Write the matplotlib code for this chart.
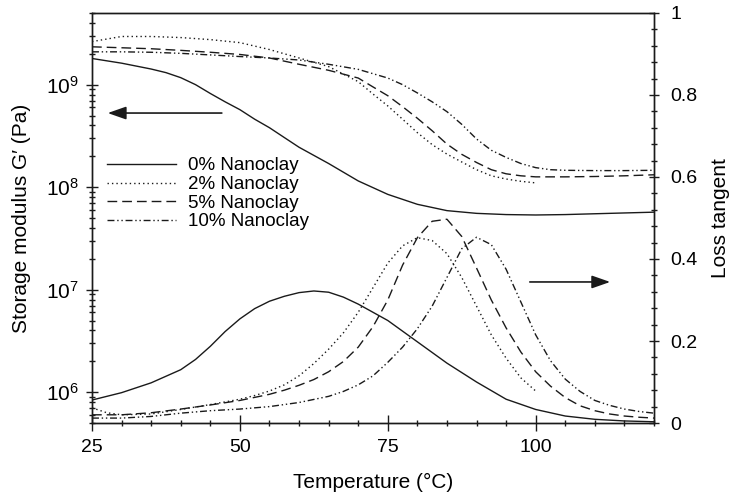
import matplotlib
matplotlib.use("Agg")
import matplotlib.pyplot as plt
from matplotlib.ticker import MultipleLocator, LogLocator, FixedLocator, NullFormatter, FormatStrFormatter, LogFormatterMathtext

plt.rcParams['font.family'] = ['Liberation Sans', 'DejaVu Sans']
plt.rcParams['mathtext.fontset'] = 'custom'
plt.rcParams['mathtext.rm'] = 'Liberation Sans'
plt.rcParams['mathtext.it'] = 'Liberation Sans:italic'

# ---------------- data ----------------
labels = ["0% Nanoclay", "2% Nanoclay", "5% Nanoclay", "10% Nanoclay"]

# storage modulus G' (Pa)
T_g0 = [25, 30, 35, 37.5, 40, 42.5, 45, 47.5, 50, 52.5, 55, 57.5, 60, 65, 70, 75, 80, 85, 90, 95, 100,
        105, 110, 115, 120]
G_0 = [1.8e9, 1.62e9, 1.42e9, 1.31e9, 1.17e9, 1.0e9, 8.2e8, 6.8e8, 5.7e8, 4.6e8, 3.8e8, 3.05e8, 2.45e8,
       1.7e8, 1.15e8, 8.5e7, 6.8e7, 5.9e7, 5.55e7, 5.4e7, 5.35e7, 5.4e7, 5.5e7, 5.6e7, 5.7e7]

T_g2 = [25, 30, 35, 40, 45, 50, 55, 60, 65, 70, 72.5, 75, 77.5, 80, 82.5, 85, 87.5, 90, 92.5, 95, 97.5, 100]
G_2 = [2.63e9, 2.95e9, 2.95e9, 2.88e9, 2.75e9, 2.57e9, 2.2e9, 1.82e9, 1.5e9, 1.07e9, 8.1e8, 6.2e8,
       4.6e8, 3.4e8, 2.6e8, 2.1e8, 1.76e8, 1.48e8, 1.29e8, 1.2e8, 1.14e8, 1.1e8]

T_g5 = [25, 30, 35, 40, 45, 50, 55, 60, 65, 70, 72.5, 75, 77.5, 80, 82.5, 85, 87.5, 90, 92.5, 95,
        97.5, 100, 105, 110, 115, 120]
G_5 = [2.34e9, 2.29e9, 2.24e9, 2.16e9, 2.07e9, 1.97e9, 1.82e9, 1.58e9, 1.38e9, 1.16e9, 9.5e8, 7.8e8,
       6.1e8, 4.7e8, 3.55e8, 2.63e8, 2.09e8, 1.74e8, 1.48e8, 1.35e8, 1.29e8, 1.26e8, 1.26e8, 1.27e8,
       1.29e8, 1.32e8]

T_g10 = [25, 30, 35, 40, 45, 50, 55, 60, 65, 70, 75, 77.5, 80, 82.5, 85, 87.5, 90, 92.5, 95, 97.5,
         100, 102.5, 105, 110, 115, 120]
G_10 = [2.09e9, 2.09e9, 2.07e9, 2.02e9, 1.95e9, 1.88e9, 1.82e9, 1.74e9, 1.58e9, 1.41e9, 1.16e9, 1.0e9,
        8.3e8, 6.8e8, 5.45e8, 4.1e8, 2.95e8, 2.29e8, 1.95e8, 1.7e8, 1.55e8, 1.48e8, 1.46e8, 1.45e8,
        1.45e8, 1.46e8]

# loss tangent
T_t0 = [25, 30, 35, 40, 42.5, 45, 47.5, 50, 52.5, 55, 57.5, 60, 62.5, 65, 67.5, 70, 75, 80, 85, 90,
        95, 100, 105, 110, 115, 120]
tan_0 = [0.056, 0.074, 0.098, 0.13, 0.155, 0.187, 0.223, 0.254, 0.279, 0.297, 0.309, 0.318, 0.322,
         0.319, 0.307, 0.29, 0.25, 0.198, 0.146, 0.1, 0.058, 0.033, 0.017, 0.009, 0.005, 0.003]

T_t2 = [25, 27.5, 30, 35, 40, 45, 50, 52.5, 55, 57.5, 60, 62.5, 65, 67.5, 70, 72.5, 75, 77.5, 80,
        82.5, 85, 87.5, 90, 92.5, 95, 97.5, 100]
tan_2 = [0.037, 0.025, 0.02, 0.022, 0.033, 0.045, 0.058, 0.067, 0.078, 0.093, 0.115, 0.145, 0.18,
         0.22, 0.27, 0.33, 0.39, 0.432, 0.452, 0.445, 0.413, 0.355, 0.285, 0.215, 0.158, 0.11, 0.078]

T_t5 = [25, 30, 35, 40, 45, 50, 55, 57.5, 60, 62.5, 65, 67.5, 70, 72.5, 75, 77.5, 80, 82.5, 85,
        87.5, 90, 92.5, 95, 97.5, 100, 102.5, 105, 107.5, 110, 112.5, 115, 117.5, 120]
tan_5 = [0.02, 0.02, 0.025, 0.034, 0.044, 0.055, 0.07, 0.08, 0.092, 0.106, 0.125, 0.15, 0.185,
         0.235, 0.3, 0.385, 0.452, 0.492, 0.497, 0.455, 0.378, 0.3, 0.232, 0.173, 0.125, 0.09, 0.062,
         0.042, 0.03, 0.022, 0.017, 0.014, 0.012]

T_t10 = [25, 30, 35, 40, 45, 50, 55, 60, 65, 67.5, 70, 72.5, 75, 77.5, 80, 82.5, 85, 87.5, 90, 92.5,
         95, 97.5, 100, 102.5, 105, 107.5, 110, 112.5, 115, 117.5, 120]
tan_10 = [0.012, 0.012, 0.016, 0.024, 0.03, 0.034, 0.04, 0.05, 0.065, 0.077, 0.093, 0.115, 0.148,
          0.185, 0.23, 0.285, 0.355, 0.425, 0.453, 0.435, 0.375, 0.295, 0.215, 0.152, 0.107, 0.077,
          0.055, 0.043, 0.034, 0.028, 0.024]

x_major = [25, 50, 75, 100]
y2_major = [0, 0.2, 0.4, 0.6, 0.8, 1.0]

# ---------------- styles ----------------
col = '#1a1a1a'
lw = 1.0
styles = ['-', (0, (1, 2.2)), (0, (7, 3.6)), (0, (5, 2, 1, 2, 1, 2))]

fig = plt.figure(figsize=(7.39, 4.96), dpi=100)
ax = fig.add_axes([92/739, 1 - 423/496, 562/739, 410/496])
ax2 = ax.twinx()

G_T = [T_g0, T_g2, T_g5, T_g10]
G_V = [G_0, G_2, G_5, G_10]
t_T = [T_t0, T_t2, T_t5, T_t10]
t_V = [tan_0, tan_2, tan_5, tan_10]

handles = []
for i in range(4):
    h, = ax.plot(G_T[i], G_V[i], color=col, lw=lw, linestyle=styles[i], label=labels[i])
    handles.append(h)
    ax2.plot(t_T[i], t_V[i], color=col, lw=lw, linestyle=styles[i])

ax.set_yscale('log')
ax.set_xlim(25, 120)
ax.set_ylim(5e5, 5e9)
ax2.set_ylim(0, 1)

for a in (ax, ax2):
    for s in a.spines.values():
        s.set_linewidth(1.0)
        s.set_color(col)

ax.xaxis.set_major_locator(FixedLocator(x_major))
ax.xaxis.set_minor_locator(MultipleLocator(5))
ax.yaxis.set_major_locator(LogLocator(base=10, numticks=10))
ax.yaxis.set_minor_locator(LogLocator(base=10, subs=range(2, 10), numticks=20))
ax.yaxis.set_minor_formatter(NullFormatter())
ax.yaxis.set_major_formatter(LogFormatterMathtext())

ax2.yaxis.set_major_locator(FixedLocator(y2_major))
ax2.yaxis.set_minor_locator(MultipleLocator(0.04))
ax2.yaxis.set_major_formatter(FormatStrFormatter('%g'))

ax.tick_params(axis='x', which='major', direction='inout', length=11, width=1.0, pad=6,
               labelsize=14, color=col)
ax.tick_params(axis='x', which='minor', direction='inout', length=5, width=1.0, color=col)
ax.tick_params(axis='y', which='major', direction='inout', length=9, width=1.0, pad=5,
               labelsize=15, color=col)
ax.tick_params(axis='y', which='minor', direction='inout', length=5, width=1.0, color=col)
ax2.tick_params(axis='y', which='major', direction='inout', length=7.5, width=1.0, pad=8,
                labelsize=14, color=col)
ax2.tick_params(axis='y', which='minor', direction='inout', length=5, width=1.0, color=col)

ax.set_xlabel('Temperature (\u00b0C)', fontsize=15)
ax.xaxis.set_label_coords(0.5, -0.122)
ax.set_ylabel('Storage modulus G\u2032 (Pa)', fontsize=15)
ax.yaxis.set_label_coords(-0.108, 0.5)
ax2.set_ylabel('Loss tangent', fontsize=15)
ax2.yaxis.set_label_coords(1.102, 0.5)

leg = ax.legend(handles=handles, loc='upper left', bbox_to_anchor=(0.026, 0.648), frameon=False,
                fontsize=13.5, handlelength=3.7, handletextpad=0.65, labelspacing=0.08,
                borderpad=0, borderaxespad=0)

arrow_kw = dict(arrowstyle='-|>,head_length=0.8,head_width=0.28', color=col, lw=1.2,
                mutation_scale=14, shrinkA=0, shrinkB=0)
ax.annotate('', xy=(0.028, 0.756), xytext=(0.231, 0.756), xycoords='axes fraction',
            textcoords='axes fraction', arrowprops=arrow_kw)
ax.annotate('', xy=(0.922, 0.344), xytext=(0.779, 0.344), xycoords='axes fraction',
            textcoords='axes fraction', arrowprops=arrow_kw)

fig.savefig('out.png', dpi=100)
